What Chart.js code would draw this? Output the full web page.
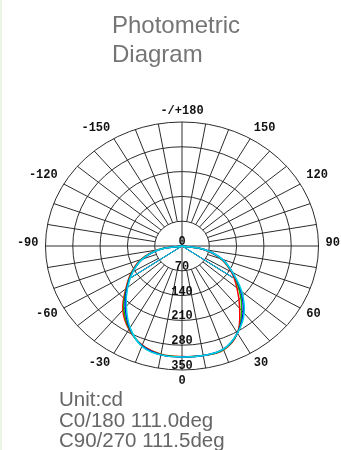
<!DOCTYPE html>
<html>
<head>
<meta charset="utf-8">
<script src="https://cdn.jsdelivr.net/npm/chart.js@4"></script>
<style>
  body { margin: 0; background: #fff; overflow: hidden; }
  #wrap { position: relative; width: 341px; height: 450px; }
  #edge { position: absolute; left: 0; top: 0; width: 2px; height: 450px; background: #eaf4e4; }
  .title { position: absolute; left: 112px; top: 10px; font: 24px/29px "Liberation Sans", Arial, sans-serif; color: #757575; }
  .info { position: absolute; left: 59px; top: 389px; font: 20.5px/20.5px "Liberation Sans", Arial, sans-serif; color: #666; }
</style>
</head>
<body>
<div id="wrap">
  <canvas id="myChart"></canvas>
  <div id="edge"></div>
  <div class="title">Photometric<br>Diagram</div>
  <div class="info">Unit:cd<br>C0/180 111.0deg<br>C90/270 111.5deg</div>
</div>
<script>
// gamma angles (deg), 0 = straight down, + to the right
const angles = [-90, -80, -70, -60, -50, -40, -30, -20, -10, 0, 10, 20, 30, 40, 50, 60, 70, 80, 90];

// intensities in cd
const seriesNames = ['C0/180', 'C45/225', 'C90/270', 'C135/315'];
const c0   = [0, 62, 112, 150, 188, 236, 272, 298, 310, 312, 314, 312, 284, 230, 184, 146, 106, 56, 0];
const c45  = [0, 61, 110, 148, 186, 232, 270, 299, 311, 313, 314, 311, 284, 238, 192, 148, 108, 58, 0];
const c90  = [0, 60, 108, 146, 184, 226, 268, 300, 312, 313, 314, 310, 284, 244, 197, 149, 110, 60, 0];
const c135 = [0, 58, 108, 145, 182, 222, 266, 301, 312, 313, 314, 310, 284, 248, 200, 150, 110, 60, 0];
const seriesColors = ['#ff0000', '#00b400', '#0000ff', '#00d8e0'];

// beam angles of each plane (deg)
const beamAngles = [111.0, 111.2, 111.5, 111.4];

const ringTicks = [0, 70, 140, 210, 280, 350];
const angleTicks = [180, 150, 120, 90, 60, 30, 0, -30, -60, -90, -120, -150];
const angleTickLabels = ['-/+180', '150', '120', '90', '60', '30', '0', '-30', '-60', '-90', '-120', '-150'];
const rMax = 350;

function toXY(deg, r) {
  const a = deg * Math.PI / 180;
  return { x: r * Math.sin(a), y: -r * Math.cos(a) };
}

const allSeries = [c0, c45, c90, c135];
const datasets = [];
allSeries.forEach((vals, i) => {
  datasets.push({
    label: seriesNames[i],
    data: angles.map((a, j) => toXY(a, vals[j])),
    borderColor: seriesColors[i],
    borderWidth: 1.5,
    showLine: true,
    tension: 0.4,
    pointRadius: 0,
    order: 10 - i * 2
  });
  const half = beamAngles[i] / 2;
  const halfPeak = Math.max(...vals) / 2;
  datasets.push({
    label: seriesNames[i] + ' beam',
    data: [toXY(-half, halfPeak), { x: 0, y: 0 }, toXY(half, halfPeak)],
    borderColor: seriesColors[i],
    borderWidth: 1,
    showLine: true,
    tension: 0,
    pointRadius: 0,
    order: 10 - i * 2
  });
});

const polarGrid = {
  id: 'polarGrid',
  beforeDatasetsDraw(chart) {
    const { ctx, scales: { x, y } } = chart;
    const cx = x.getPixelForValue(0), cy = y.getPixelForValue(0);
    ctx.save();
    ctx.strokeStyle = '#2c2c2c';
    ctx.lineWidth = 1;
    ringTicks.forEach(r => {
      if (r === 0) return;
      ctx.beginPath();
      ctx.ellipse(cx, cy, x.getPixelForValue(r) - cx, cy - y.getPixelForValue(r), 0, 0, Math.PI * 2);
      ctx.stroke();
    });
    for (let a = -170; a <= 180; a += 10) {
      const r0 = a % 90 === 0 ? 0 : ringTicks[1];
      const p0 = toXY(a, r0), p1 = toXY(a, rMax);
      ctx.beginPath();
      ctx.moveTo(x.getPixelForValue(p0.x), y.getPixelForValue(p0.y));
      ctx.lineTo(x.getPixelForValue(p1.x), y.getPixelForValue(p1.y));
      ctx.stroke();
    }
    ctx.restore();
  },
  afterDatasetsDraw(chart) {
    const { ctx, scales: { x, y } } = chart;
    const cx = x.getPixelForValue(0);
    ctx.save();
    ctx.fillStyle = '#111';
    ctx.font = 'bold 12px "Liberation Mono", monospace';
    ctx.textAlign = 'center';
    ctx.textBaseline = 'middle';
    ringTicks.forEach(r => {
      ctx.fillText(String(r), cx, y.getPixelForValue(-r) - 4);
    });
    angleTicks.forEach((a, i) => {
      const p = toXY(a, rMax);
      const s = Math.sin(a * Math.PI / 180), c = Math.cos(a * Math.PI / 180);
      const hw = ctx.measureText(angleTickLabels[i]).width / 2;
      const dx = Math.abs(s) < 1e-6 ? 0 : Math.sign(s) * (hw + 7 * Math.abs(s));
      const dy = 11 * Math.sign(c) * Math.sqrt(Math.abs(c)) - 3 * (1 - Math.abs(c));
      ctx.fillText(angleTickLabels[i], x.getPixelForValue(p.x) + dx, y.getPixelForValue(p.y) + dy);
    });
    ctx.restore();
  }
};

const myChart = new Chart(document.getElementById('myChart'), {
  type: 'scatter',
  data: { datasets: datasets },
  options: {
    responsive: true,
    maintainAspectRatio: false,
    animation: false,
    layout: { padding: { left: 45.5, right: 22.5, top: 122, bottom: 80 } },
    scales: {
      x: { type: 'linear', min: -rMax, max: rMax, display: false },
      y: { type: 'linear', min: -rMax, max: rMax, display: false }
    },
    plugins: { legend: { display: false }, tooltip: { enabled: false } }
  },
  plugins: [polarGrid]
});
</script>
</body>
</html>
